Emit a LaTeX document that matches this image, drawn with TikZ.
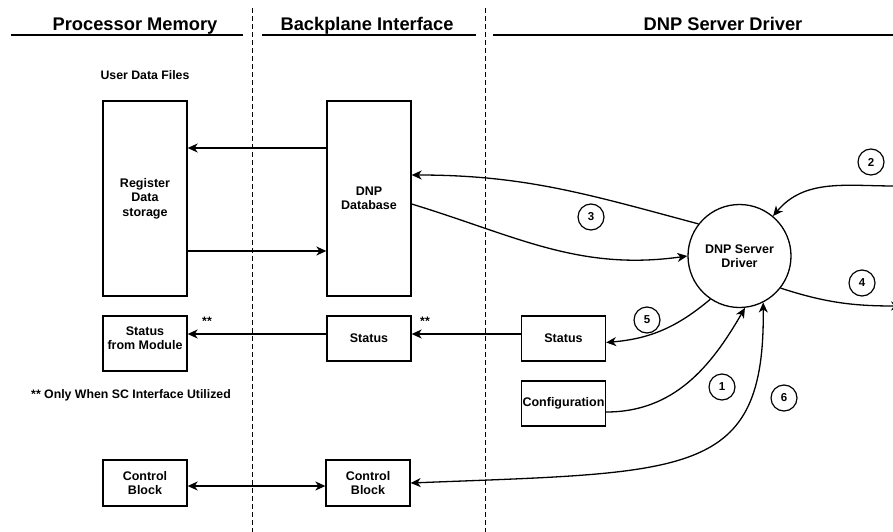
\documentclass[tikz,border=0pt]{standalone}
\usepackage{fontspec}
\setmainfont{Liberation Sans}
\usetikzlibrary{arrows.meta, positioning}
\tikzset{>={Stealth[length=10pt,width=9pt,inset=3pt]},
box/.style={draw, line width=1.3pt, minimum width=84pt, align=center, inner sep=1pt,
  font=\fontsize{12.5}{14.5}\selectfont\bfseries},
head/.style={font=\fontsize{18.3}{20}\selectfont\bfseries, anchor=base},
note/.style={font=\fontsize{12.3}{14}\selectfont\bfseries},
num/.style={draw, circle, line width=1.2pt, minimum size=26pt, inner sep=0pt,
  font=\fontsize{11.5}{13}\selectfont\bfseries},
flow/.style={->, line width=1.3pt},
lane/.style={line width=0.9pt, dash pattern=on 5pt off 3pt},
}

\begin{document}
\begin{tikzpicture}[x=1pt, y=-1pt]
\useasboundingbox (0,0) rectangle (893,532);
% column headings
    \node[head] (hpm) at (135,31) {Processor Memory};
    \node[head] (hbp) at (367,31) {Backplane Interface};
    \node[head] (hdrv) at (723,31) {DNP Server Driver};
    \draw[line width=1.4pt] (11,35) -- (243,35) (262,35) -- (476,35) (493,35) -- (893,35);
    \draw[lane] (252,8) -- (252,532) (485,8) -- (485,532);
% boxes
    \node[note] (udf) at (145,75) {User Data Files};
    \node[box, minimum height=195pt] (reg) at (145,198.5) {Register\\Data\\storage};
    \node[box, minimum height=195pt] (dnpdb) at (369,198.5) {DNP\\Database};
    \node[box, minimum height=55pt] (stmod) at (145,343.5) {Status\\from Module\\[-4pt]};
    \node[box, minimum height=45pt] (stbp) at (369,338.5) {Status};
    \node[box, minimum height=45pt] (stdrv) at (563.5,338.5) {Status};
    \node[box, minimum height=45pt] (cfg) at (563.5,403.5) {Configuration};
    \node[box, minimum height=46pt] (cbpm) at (145,483) {Control\\Block};
    \node[box, minimum height=46pt] (cbbp) at (368,483) {Control\\Block};
    \node[draw, circle, line width=1.3pt, minimum size=103pt, align=center,
      font=\fontsize{12.5}{14.5}\selectfont\bfseries] (drv) at (739.5,256) {DNP Server\\Driver};
    \node[note] (sc) at (131,395) {** Only When SC Interface Utilized};
    \node[note] (st1) at (207,321) {**};
    \node[note] (st2) at (425,321) {**};
% numbered steps
    \node[num] (n1) at (722,387) {1};
    \node[num] (n2) at (871,162) {2};
    \node[num] (n3) at (591,217) {3};
    \node[num] (n4) at (862,283) {4};
    \node[num] (n5) at (647,320) {5};
    \node[num] (n6) at (784,398) {6};
    \coordinate (in2) at (895,186);
    \coordinate (out4) at (901,306);
% memory <-> backplane
    \draw[flow] ([yshift=50.5pt]dnpdb.west) -- ([yshift=50.5pt]reg.east);
    \draw[flow] ([yshift=-52.5pt]reg.east) -- ([yshift=-52.5pt]dnpdb.west);
    \draw[flow] ([yshift=4.5pt]stbp.west) -- ([yshift=9.5pt]stmod.east);
    \draw[flow] ([yshift=4.5pt]stdrv.west) -- ([yshift=4.5pt]stbp.east);
    \draw[<->, line width=1.3pt] ([yshift=-3pt]cbpm.east) -- ([yshift=-3pt]cbbp.west);
% driver links
    \draw[flow] (drv.142) to[out=165,in=0] ([yshift=23.5pt]dnpdb.east);
    \draw[flow] ([yshift=-5.5pt]dnpdb.east) to[out=-17,in=188] (drv.west);
    \draw[flow] (in2) to[out=180,in=50] (drv.50);
    \draw[flow] (drv.-38) to[out=-18,in=180] (out4);
    \draw[flow] (drv.-124) to[out=-140,in=5] ([yshift=-4pt]stdrv.east);
    \draw[flow] ([yshift=-8.5pt]cfg.east) to[out=0,in=-120] (drv.-84);
    \draw[<->, line width=1.3pt] (cbbp.east) .. controls (690,472) and (765,478) .. (drv.-63);
\end{tikzpicture}
\end{document}
